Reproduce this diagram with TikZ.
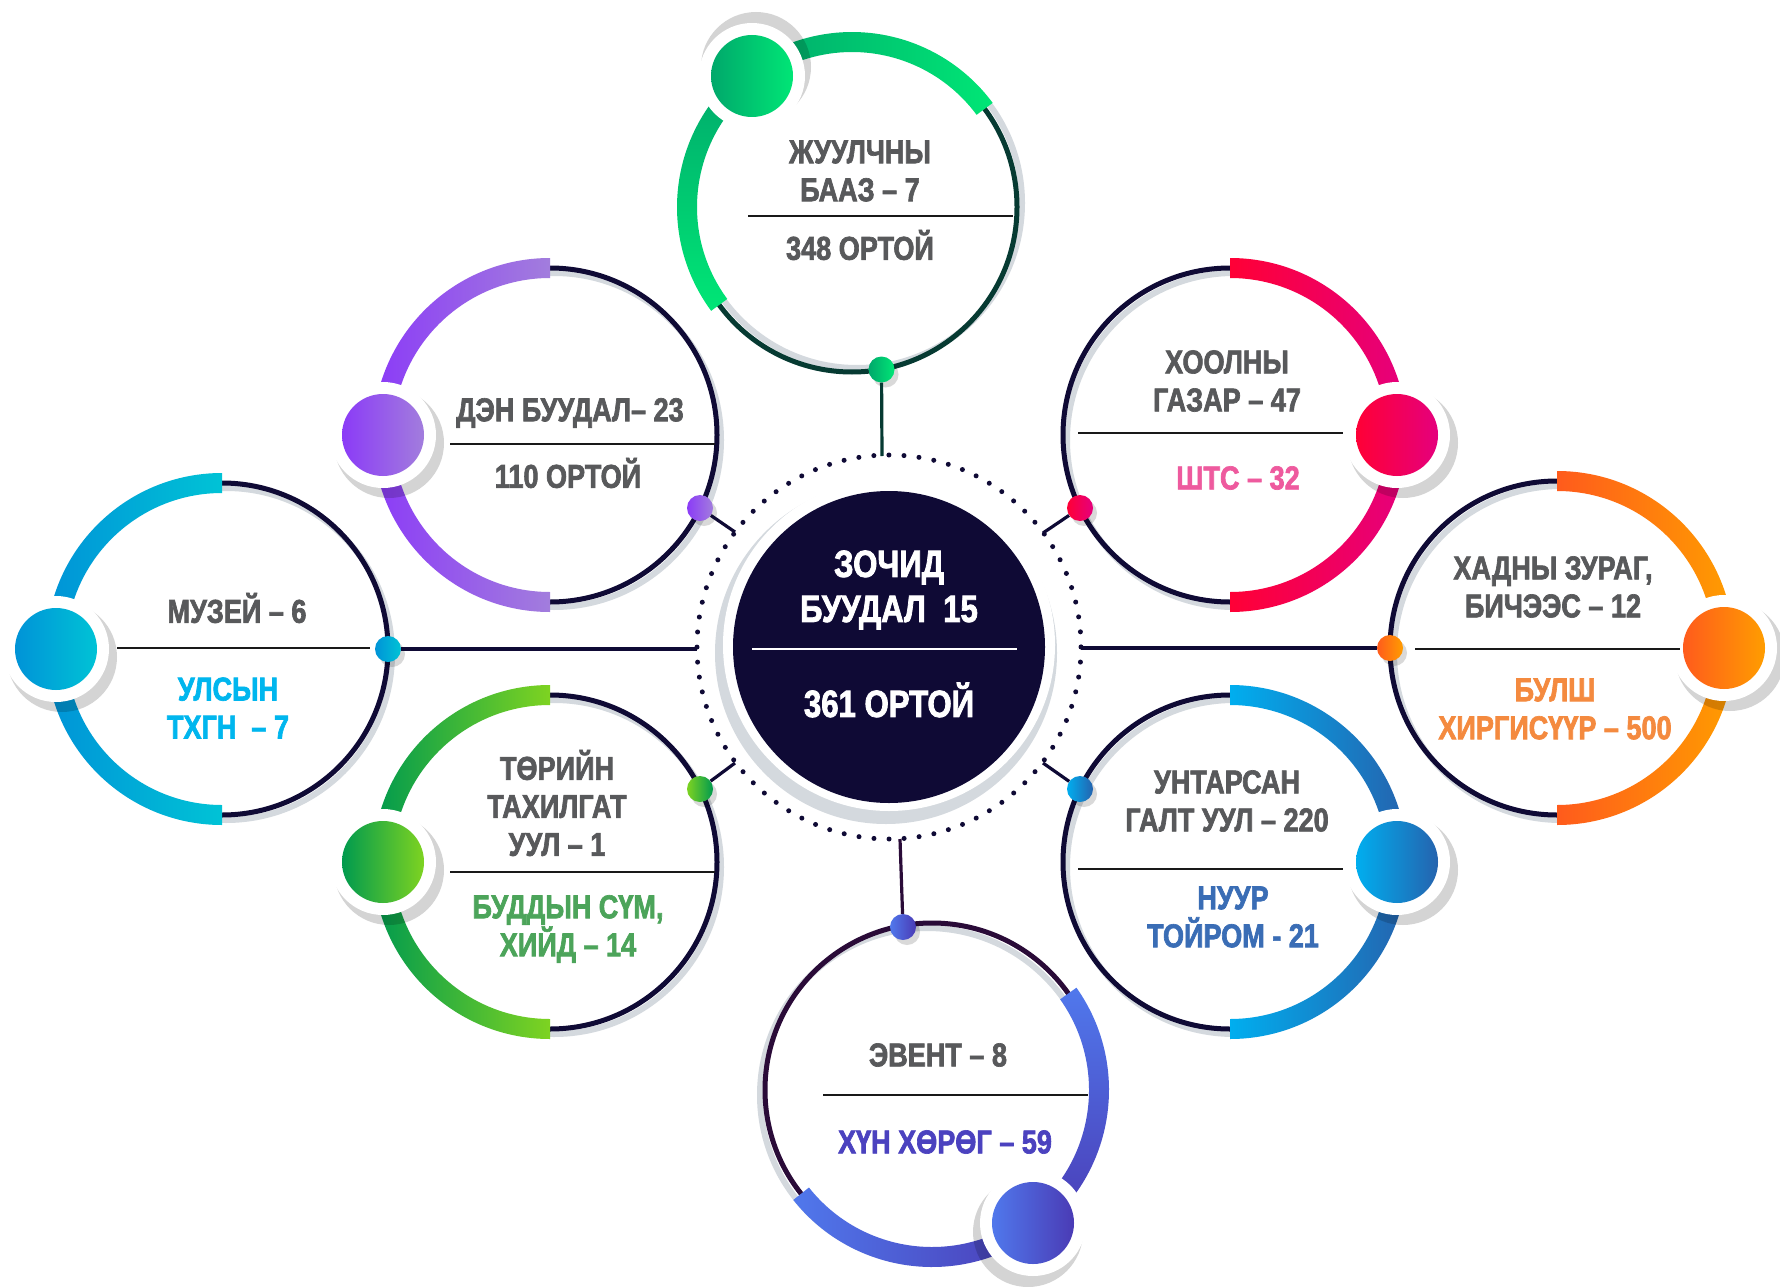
\documentclass[tikz,border=0pt]{standalone}
\usepackage{fontspec}
\setmainfont[FakeStretch=0.82, BoldFeatures={FakeBold=2}]{Liberation Sans}
\usetikzlibrary{calc}
\definecolor{navy}{HTML}{0F0A35}
\definecolor{tealdark}{HTML}{063A32}
\definecolor{plumdark}{HTML}{2A0B38}
\definecolor{txtgray}{HTML}{58595B}
\definecolor{ringshadow}{HTML}{D4D9DE}
\definecolor{gA}{HTML}{00A86B}\definecolor{gB}{HTML}{00E676}
\definecolor{pA}{HTML}{8B3BF7}\definecolor{pB}{HTML}{A27DDD}
\definecolor{rA}{HTML}{FF0036}\definecolor{rB}{HTML}{E5007D}
\definecolor{cA}{HTML}{0093D7}\definecolor{cB}{HTML}{00C3D6}
\definecolor{oA}{HTML}{FF5B1C}\definecolor{oB}{HTML}{FF9D00}
\definecolor{lA}{HTML}{009A4E}\definecolor{lB}{HTML}{7ED321}
\definecolor{bA}{HTML}{00AEEF}\definecolor{bB}{HTML}{2563AE}
\definecolor{iA}{HTML}{5078EC}\definecolor{iB}{HTML}{4A3BB5}
\definecolor{pinktxt}{HTML}{EE5A9E}
\definecolor{cyantxt}{HTML}{00B6EE}
\definecolor{orangetxt}{HTML}{F48A3F}
\definecolor{greentxt}{HTML}{4CA45A}
\definecolor{bluetxt}{HTML}{3A6DB5}
\definecolor{indigotxt}{HTML}{4B42BF}

\newcommand\ringarc[5]{%
  \path[#5, shift={(#1)}] ({#3}:{#2+10}) arc[start angle={#3}, end angle={#4}, radius={#2+10}]
    -- ({#4}:{#2-10}) arc[start angle={#4}, end angle={#3}, radius={#2-10}] -- cycle;}
\newcommand\bigball[5]{%
  \fill[black, opacity=.17] ($(#2)+(#3)$) circle[radius=55];
  \fill[white] (#2) circle[radius=53];
  \node[ball, left color=#4, right color=#5] (#1) at (#2) {};}
\newcommand\smalldot[4]{%
  \fill[black, opacity=.15] ($(#2)+(4,5)$) circle[radius=13];
  \node[sdot, left color=#3, right color=#4] (#1) at (#2) {};}

\begin{document}
\begin{tikzpicture}[x=1pt, y=1pt, yscale=-1,
  ball/.style={circle, inner sep=0pt, minimum size=82pt},
  sdot/.style={circle, inner sep=0pt, minimum size=26pt},
  ring/.style={circle, inner sep=0pt, line width=5pt, draw=navy},
  shadowline/.style={ringshadow, line width=6pt},
  divider/.style={line width=2.8pt, black!90},
  link/.style={line width=3.2pt, navy},
  hd/.style={text=txtgray, font=\fontsize{33}{38}\selectfont\bfseries, align=center, inner sep=0pt},
  sub/.style={font=\fontsize{33}{38}\selectfont\bfseries, align=center, inner sep=0pt},
  hubtxt/.style={text=white, font=\fontsize{38}{45}\selectfont\bfseries, align=center, inner sep=0pt}]

\useasboundingbox (0,0) rectangle (1780,1287);
\fill[white] (0,0) rectangle (1780,1287);

% ---------- hub ----------
\fill[ringshadow] (886,653) circle[radius=171];
\fill[white] (889,645) circle[radius=166];
\draw[navy, line width=5pt, line cap=round, dash pattern=on 0pt off 15.08pt] (889,647) circle[radius=192];
\node[circle, fill=navy, minimum size=312pt, inner sep=0pt] (hub) at (889,647) {};

% ---------- ring 1 (top) ----------
\draw[shadowline] (857,203) circle[radius=165];
\node[ring, draw=tealdark, minimum size=330pt] (r1) at (852,207) {};
\ringarc{852,207}{165}{143.6}{232.8}{top color=gA, bottom color=gB}
\ringarc{852,207}{165}{232.8}{323.5}{left color=gA, right color=gB}

% ---------- ring 2 (upper left) ----------
\draw[shadowline] (554,440) circle[radius=167];
\node[ring, minimum size=334pt] (r2) at (550,435) {};
\ringarc{550,435}{167}{90}{270}{left color=pA, right color=pB}

% ---------- ring 3 (upper right) ----------
\draw[shadowline] (1234,440) circle[radius=167];
\node[ring, minimum size=334pt] (r3) at (1230,435) {};
\ringarc{1230,435}{167}{-90}{90}{left color=rA, right color=rB}

% ---------- ring 4 (left) ----------
\draw[shadowline] (226,654) circle[radius=166];
\node[ring, minimum size=332pt] (r4) at (222,649) {};
\ringarc{222,649}{166}{90}{270}{left color=cA, right color=cB}

% ---------- ring 5 (right) ----------
\draw[shadowline] (1561,653) circle[radius=167];
\node[ring, minimum size=334pt] (r5) at (1557,648) {};
\ringarc{1557,648}{167}{-90}{90}{left color=oA, right color=oB}

% ---------- ring 6 (lower left) ----------
\draw[shadowline] (554,867) circle[radius=167];
\node[ring, minimum size=334pt] (r6) at (550,862) {};
\ringarc{550,862}{167}{90}{270}{left color=lA, right color=lB}

% ---------- ring 7 (lower right) ----------
\draw[shadowline] (1234,867) circle[radius=167];
\node[ring, minimum size=334pt] (r7) at (1230,862) {};
\ringarc{1230,862}{167}{-90}{90}{left color=bA, right color=bB}

% ---------- ring 8 (bottom) ----------
\draw[shadowline] (927,1095) circle[radius=167];
\node[ring, draw=plumdark, minimum size=334pt] (r8) at (932,1090) {};
\ringarc{932,1090}{167}{-35.3}{52.8}{top color=iA, bottom color=iB}
\ringarc{932,1090}{167}{52.8}{141.6}{left color=iA, right color=iB}

% ---------- big balls ----------
\bigball{k1}{752,76}{4,-9}{gA}{gB}
\bigball{k2}{383,435}{6,8}{pA}{pB}
\bigball{k3}{1397,435}{6,8}{rA}{rB}
\bigball{k4}{56,649}{6,8}{cA}{cB}
\bigball{k5}{1724,648}{6,8}{oA}{oB}
\bigball{k6}{383,862}{6,8}{lA}{lB}
\bigball{k7}{1397,862}{6,8}{bA}{bB}
\bigball{k8}{1033,1223}{-5,9}{iA}{iB}

% ---------- small dots ----------
\smalldot{d1}{881.5,369.5}{gA}{gB}
\smalldot{d2}{700,508}{pA}{pB}
\smalldot{d3}{1080,508}{rA}{rB}
\smalldot{d4}{388,649}{cA}{cB}
\smalldot{d5}{1390,648}{oA}{oB}
\smalldot{d6}{700,789}{lB}{lA}
\smalldot{d7}{1080,789}{bA}{bB}
\smalldot{d8}{903,927}{iA}{iB}

% ---------- connectors ----------
\coordinate (e1) at (882,456);
\coordinate (e2) at (735,532);
\coordinate (e3) at (1043,533);
\coordinate (e4) at (697,649);
\coordinate (e5) at (1081,648);
\coordinate (e6) at (735,763);
\coordinate (e7) at (1043,763);
\coordinate (e8) at (900,839);
\draw[link, tealdark] (d1) -- (e1);
\draw[link] (d2) -- (e2);
\draw[link] (d3) -- (e3);
\draw[link] (d4) -- (e4);
\draw[link] (d5) -- (e5);
\draw[link] (d6) -- (e6);
\draw[link] (d7) -- (e7);
\draw[link, plumdark] (d8) -- (e8);

% ---------- hub text ----------
\node[hubtxt] (h1) at (889,590) {ЗОЧИД\\БУУДАЛ\ \ 15};
\draw[white, line width=2.6pt] (752,649) -- (1017,649);
\node[hubtxt] (h2) at (889,700) {361 ОРТОЙ};

% ---------- ring texts ----------
\node[hd] (t1) at (860,171) {ЖУУЛЧНЫ\\БААЗ – 7};
\draw[divider] (748,216) -- (1013,216);
\node[hd] (u1) at (860,245) {348 ОРТОЙ};

\node[hd] (t2) at (570,413) {ДЭН БУУДАЛ– 23};
\draw[divider] (450,444) -- (715,444);
\node[hd] (u2) at (568,473) {110 ОРТОЙ};

\node[hd] (t3) at (1227,381) {ХООЛНЫ\\ГАЗАР – 47};
\draw[divider] (1078,433) -- (1343,433);
\node[sub, text=pinktxt] (u3) at (1238,478) {ШТС – 32};

\node[hd] (t4) at (237,608) {МУЗЕЙ – 6};
\draw[divider] (117,648) -- (370,648);
\node[sub, text=cyantxt] (u4) at (228,708) {УЛСЫН\\ТХГН\ \ – 7};

\node[hd] (t5) at (1553,587) {ХАДНЫ ЗУРАГ,\\БИЧЭЭС – 12};
\draw[divider] (1415,649) -- (1680,649);
\node[sub, text=orangetxt] (u5) at (1555,709) {БУЛШ\\ХИРГИСҮҮР – 500};

\node[hd] (t6) at (557,803) {ТӨРИЙН\\ТАХИЛГАТ\\УУЛ – 1};
\draw[divider] (450,872) -- (715,872);
\node[sub, text=greentxt] (u6) at (568,929) {БУДДЫН СҮМ,\\ХИЙД – 14};

\node[hd] (t7) at (1227,801) {УНТАРСАН\\ГАЛТ УУЛ – 220};
\draw[divider] (1078,869) -- (1343,869);
\node[sub, text=bluetxt] (u7) at (1233,917) {НУУР\\ТОЙРОМ - 21};

\node[hd] (t8) at (938,1055) {ЭВЕНТ – 8};
\draw[divider] (823,1095) -- (1088,1095);
\node[sub, text=indigotxt] (u8) at (945,1142) {ХҮН ХӨРӨГ – 59};
\end{tikzpicture}
\end{document}
